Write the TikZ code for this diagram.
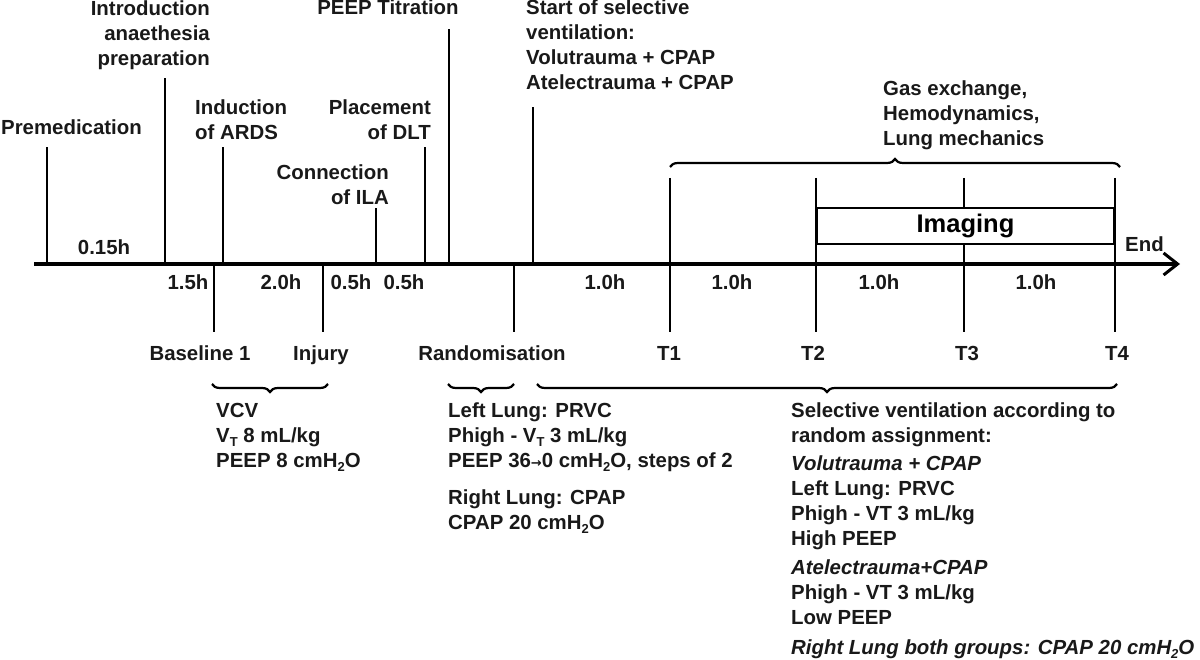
\documentclass[tikz,border=0pt]{standalone}
\usepackage{fontspec}
\setmainfont{Liberation Sans}
\newfontfamily\djv{DejaVu Sans}
\usetikzlibrary{arrows.meta,decorations.pathreplacing}
\newcommand{\lowsub}[1]{\raisebox{-0.35ex}{\fontsize{13}{13}\selectfont #1}}
\newcommand{\smarrow}{{\djv\fontsize{13}{13}\selectfont →}}
\begin{document}
\begin{tikzpicture}[x=1pt,y=-1pt,
  lbl/.style={font=\bfseries\fontsize{20.4}{25}\selectfont, inner sep=0pt, align=left, text=black!90},
  lblr/.style={lbl, align=right},
  tickline/.style={line width=2pt},
  axisline/.style={line width=3.5pt, -{Straight Barb[length=14pt,width=22pt,line width=3pt]}},
  brc/.style={decorate, decoration={brace, amplitude=8pt}, line width=2.2pt},
  brcdown/.style={decorate, decoration={brace, mirror, amplitude=8pt}, line width=2.2pt},
  imgbox/.style={draw, line width=2.5pt, fill=white, inner sep=0pt, minimum width=297pt, minimum height=36pt, font=\bfseries\fontsize{25.5}{25}\selectfont}
]
\useasboundingbox (0,0) rectangle (1200,660);

% axis
\coordinate (axA) at (34,264);
\coordinate (axB) at (1180,264);
\draw[axisline] (axA) -- (axB);

% ticks above the axis
\coordinate (tPrem) at (47,264);
\coordinate (tIntro) at (165,264);
\coordinate (tInd) at (223,264);
\coordinate (tConn) at (376,264);
\coordinate (tPlace) at (425,264);
\coordinate (tPeep) at (449,262);
\coordinate (tStart) at (533,264);
\draw[tickline] (tPrem) -- ++(0,-117);
\draw[tickline] (tIntro) -- ++(0,-186);
\draw[tickline] (tInd) -- ++(0,-117);
\draw[tickline] (tConn) -- ++(0,-56);
\draw[tickline] (tPlace) -- ++(0,-117);
\draw[tickline] (tPeep) -- ++(0,-233);
\draw[tickline] (tStart) -- ++(0,-157);

% ticks below the axis
\coordinate (tBase) at (214,264);
\coordinate (tInj) at (323,264);
\coordinate (tRand) at (514,264);
\draw[tickline] (tBase) -- ++(0,68);
\draw[tickline] (tInj) -- ++(0,68);
\draw[tickline] (tRand) -- ++(0,68);

% T lines
\coordinate (t1a) at (670,178); \coordinate (t1b) at (670,332);
\coordinate (t2a) at (816,178); \coordinate (t2b) at (816,332);
\coordinate (t3a) at (964,178); \coordinate (t3b) at (964,332);
\coordinate (t4a) at (1115,178); \coordinate (t4b) at (1115,332);
\draw[tickline] (t1a) -- (t1b);
\draw[tickline] (t2a) -- (t2b);
\draw[tickline] (t3a) -- (t3b);
\draw[tickline] (t4a) -- (t4b);

% imaging box
\node[imgbox] (imaging) at (965.5,226) {Imaging};

% top labels
\node[lbl, anchor=base west] (prem) at (1,135) {Premedication};
\node[lblr, anchor=north east] (intro) at (210,1) {Introduction\\anaethesia\\preparation};
\node[lbl, anchor=north west] (induct) at (195,100) {Induction\\of ARDS};
\node[lblr, anchor=north east] (conn) at (389,165) {Connection\\of ILA};
\node[lblr, anchor=north east] (place) at (431,100) {Placement\\of DLT};
\node[lbl, anchor=base] (peep) at (388,15) {PEEP Titration};
\node[lbl, anchor=north west] (start) at (526,0) {Start of selective\\ventilation:\\Volutrauma + CPAP\\Atelectrauma + CPAP};
\node[lbl, anchor=north west] (gas) at (883,81) {Gas exchange,\\Hemodynamics,\\Lung mechanics};
\node[lbl, anchor=base west] (endlbl) at (1125,252) {End};

% durations
\node[lbl, anchor=base] (d0) at (104,255) {0.15h};
\node[lbl, anchor=base] (d1) at (188,290) {1.5h};
\node[lbl, anchor=base] (d2) at (281,290) {2.0h};
\node[lbl, anchor=base] (d3) at (351,290) {0.5h};
\node[lbl, anchor=base] (d4) at (404,290) {0.5h};
\node[lbl, anchor=base] (d5) at (605,290) {1.0h};
\node[lbl, anchor=base] (d6) at (732,290) {1.0h};
\node[lbl, anchor=base] (d7) at (879,290) {1.0h};
\node[lbl, anchor=base] (d8) at (1036,290) {1.0h};

% bottom labels
\node[lbl, anchor=base] (base) at (200,360) {Baseline 1};
\node[lbl, anchor=base] (inj) at (321,360) {Injury};
\node[lbl, anchor=base] (rand) at (492,360) {Randomisation};
\node[lbl, anchor=base] (T1) at (669,360) {T1};
\node[lbl, anchor=base] (T2) at (813,360) {T2};
\node[lbl, anchor=base] (T3) at (967,360) {T3};
\node[lbl, anchor=base] (T4) at (1117,360) {T4};

% braces
\coordinate (bvA) at (212,384); \coordinate (bvB) at (328,384);
\coordinate (blA) at (448,384); \coordinate (blB) at (514,384);
\coordinate (bsA) at (537,384); \coordinate (bsB) at (1117,384);
\coordinate (bgA) at (670,167); \coordinate (bgB) at (1120,167);
\draw[brcdown] (bvA) -- (bvB);
\draw[brcdown] (blA) -- (blB);
\draw[brcdown] (bsA) -- (bsB);
\draw[brc] (bgA) -- (bgB);

% bottom text blocks
\node[lbl, anchor=north west] (vcv) at (216,403) {VCV\\V\lowsub{T} 8 mL/kg\\PEEP 8 cmH\lowsub{2}O};
\node[lbl, anchor=north west] (left) at (448,403) {Left Lung: PRVC\\Phigh - V\lowsub{T} 3 mL/kg\\PEEP 36\smarrow0 cmH\lowsub{2}O, steps of 2\\[12pt]Right Lung: CPAP\\CPAP 20 cmH\lowsub{2}O};
\node[lbl, anchor=north west] (sel) at (791,403) {Selective ventilation according to\\random assignment:\\[3pt]\textit{Volutrauma + CPAP}\\Left Lung: PRVC\\Phigh - VT 3 mL/kg\\High PEEP\\[4pt]\textit{Atelectrauma+CPAP}\\Phigh - VT 3 mL/kg\\Low PEEP\\[5pt]\textit{Right Lung both groups: CPAP 20 cmH\lowsub{2}O}};
\end{tikzpicture}
\end{document}
